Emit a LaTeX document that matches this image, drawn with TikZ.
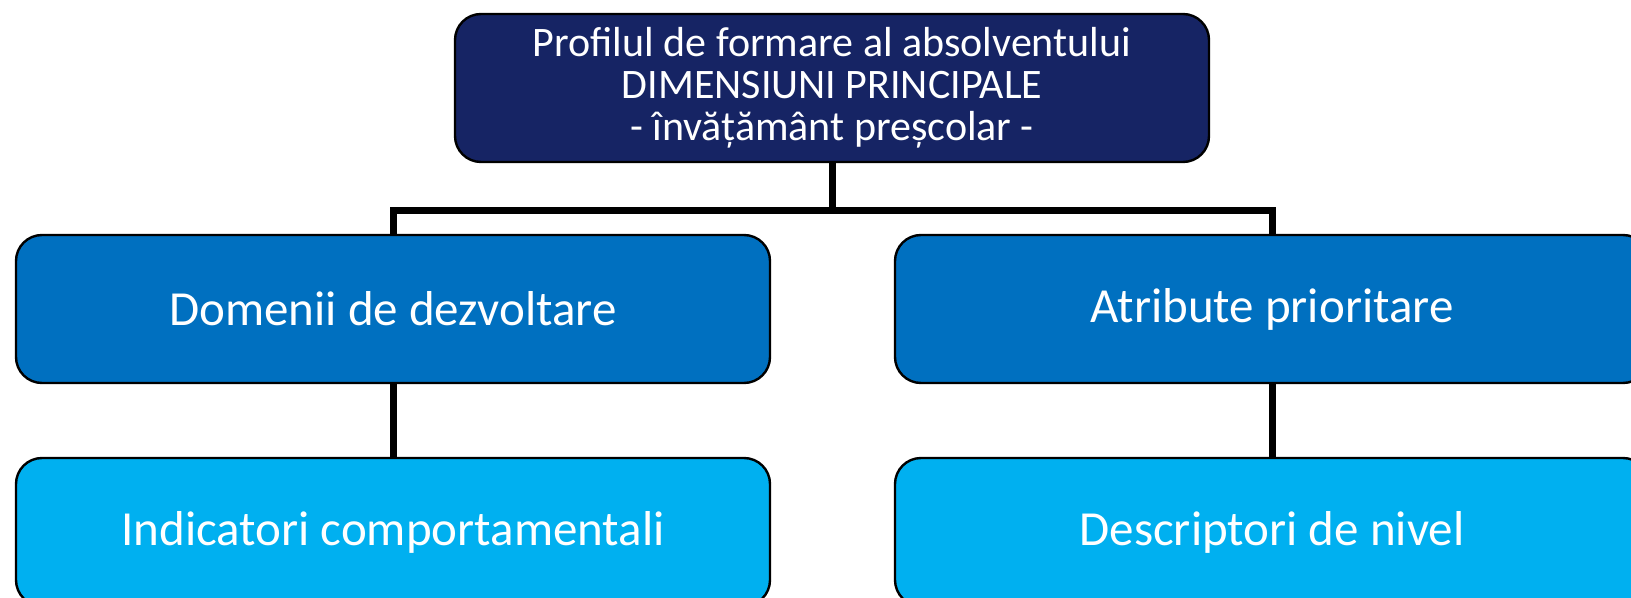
\documentclass[tikz,border=0pt]{standalone}
\usepackage{fontspec}
\setmainfont{Carlito}
\usetikzlibrary{positioning}
\definecolor{bleumarin}{RGB}{22,36,100}
\definecolor{albastru}{RGB}{0,112,192}
\definecolor{bleu}{RGB}{0,176,240}
\tikzset{
	cutie/.style={draw=black, line width=1.2pt, rounded corners=13pt, minimum width=377pt, minimum height=74pt, text=white, align=center, inner sep=0pt},
	legatura/.style={line width=3.5pt}
}
\begin{document}
\begin{tikzpicture}[x=0.5pt,y=-0.5pt]
	\useasboundingbox (0,0) rectangle (1631,598);
	\node[cutie, fill=bleumarin, font=\fontsize{21}{21}\selectfont] (profil) at (832,88) {Profilul de formare al absolventului\\DIMENSIUNI PRINCIPALE\\- învățământ preșcolar -};%sus
	\node[cutie, fill=albastru, font=\fontsize{24.5}{28}\selectfont] (domenii) at (393,309) {Domenii de dezvoltare};%mijloc stanga
	\node[cutie, fill=albastru, font=\fontsize{24.5}{28}\selectfont] (atribute) at (1272,309) {Atribute prioritare};%mijloc dreapta
	\node[cutie, fill=bleu, font=\fontsize{24.5}{28}\selectfont] (indicatori) at (393,532) {Indicatori comportamentali};%jos stanga
	\node[cutie, fill=bleu, font=\fontsize{24.5}{28}\selectfont] (descriptori) at (1272,532) {Descriptori de nivel};%jos dreapta

	%%%%%%
	%legaturi
	\coordinate (bara) at (832,211);
	\draw[legatura] (profil.south) -- (bara);
	\draw[legatura] (domenii.north) |- (bara) -| (atribute.north);%bara orizontala
	\draw[legatura] (domenii.south) -- (indicatori.north);
	\draw[legatura] (atribute.south) -- (descriptori.north);
\end{tikzpicture}
\end{document}
